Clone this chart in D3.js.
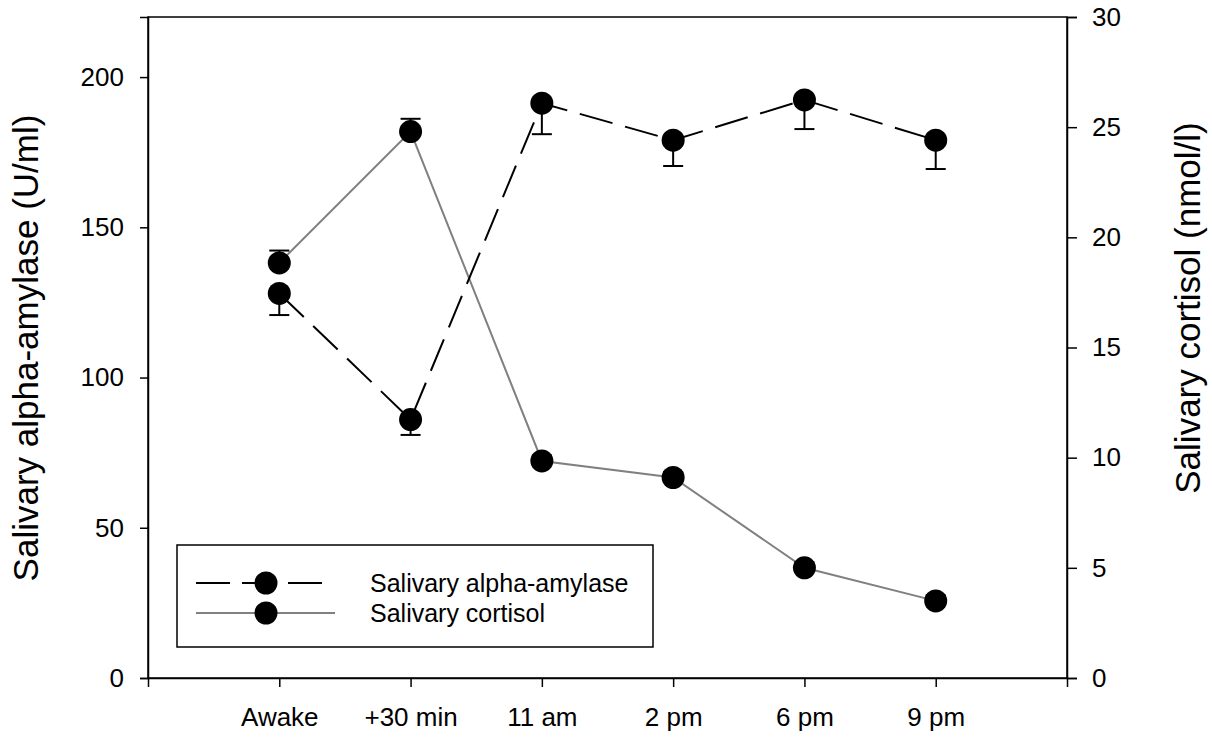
<!DOCTYPE html>
<html><head><meta charset="utf-8">
<script src="https://cdn.jsdelivr.net/npm/d3@7"></script>
<style>body{margin:0;background:#fff}svg{display:block}text{font-family:"Liberation Sans",Arial,sans-serif}</style>
</head><body><svg id="c" width="1212" height="740"></svg>
<script>
const categories = ["Awake","+30 min","11 am","2 pm","6 pm","9 pm"];
const amylase = [128, 86, 191.3, 179, 192.4, 179];
const amylaseLower = [120.8, 80.9, 181, 170.4, 182.7, 169.4];
const cortisol = [18.84, 24.8, 9.85, 9.1, 5.0, 3.5];
const cortisolUpper = [19.4, 25.38, 10.1, 9.35, 5.25, 3.75];
const leftTicks = [0,50,100,150,200];
const rightTicks = [0,5,10,15,20,25,30];
const seriesNames = ["Salivary alpha-amylase","Salivary cortisol"];

const svg = d3.select("#c");
const L=148, R=1067, T=17, B=678;
const x = d3.scaleLinear().domain([0,7]).range([L,R]);
const yL = d3.scaleLinear().domain([0,220]).range([B,T]);
const yR = d3.scaleLinear().domain([0,30]).range([B,T]);

// frame
svg.append("rect").attr("x",L).attr("y",T).attr("width",R-L).attr("height",B-T)
  .attr("fill","none").attr("stroke","#000").attr("stroke-width",1.5);

const fs = 26;
const ax = svg.append("g").attr("transform",`translate(0,${B})`)
  .call(d3.axisBottom(x).tickValues(d3.range(1,7)).tickFormat(i=>categories[i-1]).tickSize(9).tickPadding(21));
const ayl = svg.append("g").attr("transform",`translate(${L},0)`)
  .call(d3.axisLeft(yL).tickValues(leftTicks).tickSize(8).tickPadding(16));
const ayr = svg.append("g").attr("transform",`translate(${R},0)`)
  .call(d3.axisRight(yR).tickValues(rightTicks).tickSize(10).tickPadding(15));
[ax,ayl,ayr].forEach(g=>{
  g.select(".domain").attr("stroke","#000").attr("stroke-width",1.5);
  g.selectAll(".tick line").attr("stroke","#000").attr("stroke-width",1.5);
  g.selectAll(".tick text").attr("fill","#000").style("font-size",fs+"px").style("font-family","'Liberation Sans',Arial,sans-serif");
});

// titles
svg.append("text").attr("transform",`translate(38,348) rotate(-90)`)
  .attr("text-anchor","middle").style("font-size","35px").text("Salivary alpha-amylase (U/ml)");
svg.append("text").attr("transform",`translate(1200,308) rotate(-90)`)
  .attr("text-anchor","middle").style("font-size","35px").text("Salivary cortisol (nmol/l)");

const idx = d3.range(categories.length);
const r = 11.5;

// cortisol line
svg.append("path").datum(idx)
  .attr("d", d3.line().x(i=>x(i+1)).y(i=>yR(cortisol[i])))
  .attr("fill","none").attr("stroke","#808080").attr("stroke-width",2);
// amylase line dashed
svg.append("path").datum(idx)
  .attr("d", d3.line().x(i=>x(i+1)).y(i=>yL(amylase[i])))
  .attr("fill","none").attr("stroke","#000").attr("stroke-width",2).attr("stroke-dasharray","34,13");

// error bars
const eb = svg.append("g").attr("stroke","#000").attr("stroke-width",2);
idx.forEach(i=>{
  const cx = x(i+1);
  eb.append("line").attr("x1",cx).attr("x2",cx).attr("y1",yL(amylase[i])).attr("y2",yL(amylaseLower[i]));
  eb.append("line").attr("x1",cx-10).attr("x2",cx+10).attr("y1",yL(amylaseLower[i])).attr("y2",yL(amylaseLower[i]));
  eb.append("line").attr("x1",cx).attr("x2",cx).attr("y1",yR(cortisol[i])).attr("y2",yR(cortisolUpper[i]));
  eb.append("line").attr("x1",cx-10).attr("x2",cx+10).attr("y1",yR(cortisolUpper[i])).attr("y2",yR(cortisolUpper[i]));
});

// markers
svg.append("g").selectAll("circle").data(idx).join("circle")
  .attr("cx",i=>x(i+1)).attr("cy",i=>yR(cortisol[i])).attr("r",r).attr("fill","#000");
svg.append("g").selectAll("circle").data(idx).join("circle")
  .attr("cx",i=>x(i+1)).attr("cy",i=>yL(amylase[i])).attr("r",r).attr("fill","#000");

// legend
const lg = svg.append("g");
lg.append("rect").attr("x",177).attr("y",545).attr("width",476).attr("height",102)
  .attr("fill","#fff").attr("stroke","#000").attr("stroke-width",1.5);
const rows = [{y:583, stroke:"#000", dash:"34,12"},{y:613, stroke:"#808080", dash:null}];
rows.forEach((row,k)=>{
  const ln = lg.append("line").attr("x1",196).attr("x2",k===0?323:335).attr("y1",row.y).attr("y2",row.y)
    .attr("stroke",row.stroke).attr("stroke-width",2);
  if(row.dash) ln.attr("stroke-dasharray",row.dash);
  lg.append("circle").attr("cx",266).attr("cy",row.y).attr("r",r).attr("fill","#000");
  lg.append("text").attr("x",370).attr("y",row.y+9).style("font-size","25px").text(seriesNames[k]);
});
</script></body></html>
